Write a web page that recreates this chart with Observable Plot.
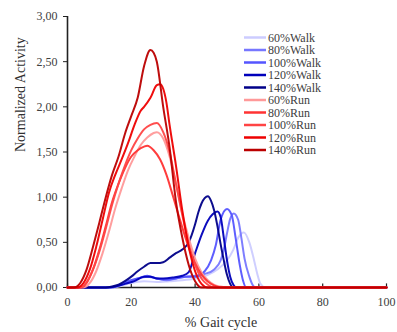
<!DOCTYPE html>
<html><head><meta charset="utf-8">
<script src="https://cdn.jsdelivr.net/npm/d3@7"></script>
<script src="https://cdn.jsdelivr.net/npm/@observablehq/plot@0.6"></script>
<style>body{margin:0;background:#fff} svg text{font-family:'Liberation Serif','Times New Roman',serif !important}</style>
</head><body><div id="chart"></div>
<script>
const seriesNames = ["60%Walk","80%Walk","100%Walk","120%Walk","140%Walk","60%Run","80%Run","100%Run","120%Run","140%Run"];
const seriesColors = ["#CCCCFF","#7777FF","#5555FF","#0000BB","#000088","#FF9999","#FF3333","#FF4444","#EE0000","#BB0000"];
const xTicks = [0,20,40,60,80,100];
const yTicks = [0,0.5,1,1.5,2,2.5,3];

const walk60X = [0,14,17,20,24,28,32,36,40,44,47,50,52,53.5,55.3,57,58.5,59.5,60.5,62,100];
const walk60Y = [0,0,0.02,0.05,0.07,0.06,0.07,0.08,0.1,0.14,0.2,0.3,0.42,0.55,0.61,0.5,0.3,0.15,0.04,0,0];
const walk80X = [0,13,16,19,22,25,28,31,34,37,40,43,46,48,49,50,51,52.1,53.5,54.5,55.5,57,58,59,100];
const walk80Y = [0,0,0.02,0.06,0.1,0.12,0.1,0.08,0.1,0.12,0.13,0.15,0.2,0.3,0.42,0.6,0.76,0.82,0.75,0.55,0.32,0.12,0.03,0,0];
const walk100X = [0,13,16,19,22,25,28,31,34,37,40,43,45,46.5,48,50,51.5,52.7,54,55,56,100];
const walk100Y = [0,0,0.02,0.07,0.1,0.13,0.1,0.09,0.1,0.12,0.12,0.18,0.3,0.47,0.75,0.87,0.8,0.55,0.25,0.08,0,0];
const walk120X = [0,12,15,18,21,24,26,28,30,33,36,38,40,42,44,45.5,47,48,49,50,51,52,53,100];
const walk120Y = [0,0,0.01,0.04,0.07,0.12,0.12,0.1,0.1,0.11,0.13,0.17,0.38,0.58,0.74,0.81,0.84,0.78,0.55,0.3,0.12,0.03,0,0];
const walk140X = [0,12,14,16,18,20,22,24,26,28,30,32,34,36,38,40,41,42,44,45,46,47,48,49,50,51,52,100];
const walk140Y = [0,0,0.01,0.03,0.07,0.12,0.18,0.23,0.27,0.27,0.28,0.33,0.38,0.42,0.5,0.7,0.83,0.93,1.01,0.96,0.85,0.68,0.48,0.3,0.14,0.04,0,0];

const run60X = [0,5,7,9,11,13,15,17,19,21,23,25,27,28,30,32,34,36,38,40,42,44,46,48,50,100];
const run60Y = [0,0,0.05,0.18,0.38,0.62,0.88,1.1,1.3,1.45,1.58,1.66,1.71,1.72,1.65,1.45,1.15,0.82,0.55,0.32,0.17,0.08,0.03,0.01,0,0];
const run80X = [0,4,6,8,10,12,14,16,18,20,22,24,25,27,29,31,33,35,37,39,41,43,45,47,49,100];
const run80Y = [0,0,0.05,0.2,0.42,0.68,0.95,1.15,1.32,1.45,1.52,1.56,1.57,1.52,1.42,1.25,1.02,0.78,0.55,0.35,0.2,0.1,0.04,0.01,0,0];
const run100X = [0,4,6,8,10,12,14,16,18,20,22,24,26,28,30,32,34,36,38,40,42,44,46,100];
const run100Y = [0,0,0.06,0.2,0.4,0.65,0.92,1.15,1.35,1.52,1.65,1.75,1.8,1.82,1.72,1.5,1.15,0.8,0.48,0.25,0.1,0.03,0,0];
const run120X = [0,3,5,7,9,11,13,15,17,19,21,23,24,26,28,29,30,31,32,34,36,38,40,42,44,100];
const run120Y = [0,0,0.05,0.2,0.45,0.75,1.05,1.25,1.42,1.6,1.8,1.96,2.0,2.1,2.24,2.25,2.2,2.05,1.8,1.35,0.85,0.45,0.18,0.04,0,0];
const run140X = [0,2,4,6,8,10,12,14,16,18,20,22,24,26,27,28,30,32,34,36,38,40,42,100];
const run140Y = [0,0,0.05,0.2,0.45,0.72,1.0,1.25,1.45,1.7,1.9,2.1,2.45,2.63,2.6,2.5,2.0,1.55,0.95,0.55,0.25,0.07,0,0];

const xs = [walk60X,walk80X,walk100X,walk120X,walk140X,run60X,run80X,run100X,run120X,run140X];
const ys = [walk60Y,walk80Y,walk100Y,walk120Y,walk140Y,run60Y,run80Y,run100Y,run120Y,run140Y];
const rows = [];
seriesNames.forEach((s,i)=>xs[i].forEach((x,j)=>rows.push({series:s,x,y:ys[i][j]})));

const fmt = v => d3.format(".2f")(v).replace(".", ",");
const font = "'Liberation Serif','Times New Roman',serif";

const plot = Plot.plot({
  width: 397, height: 332,
  marginLeft: 67, marginRight: 11, marginTop: 16, marginBottom: 45,
  style: {fontFamily: font, fontSize: "12px", color: "#404040", background: "#fff"},
  x: {domain: [0,100], ticks: xTicks},
  y: {domain: [0,3], ticks: yTicks, tickFormat: fmt},
  color: {domain: seriesNames, range: seriesColors},
  marks: [
    Plot.axisY({ticks: yTicks, tickFormat: fmt, tickSize: 4, tickPadding: 6, label: null, stroke: "#222", fontSize: 12}),
    Plot.axisX({ticks: xTicks, tickSize: 0, tickPadding: 10, label: null, fontSize: 12}),
    Plot.ruleX(xTicks, {x: d=>d, y1: 0, y2: 0.04, stroke: "#222", strokeWidth: 1.2}),
    Plot.ruleX([0], {stroke: "#222", strokeWidth: 1.6}),
    Plot.ruleY([0], {stroke: "#222", strokeWidth: 1.6}),
    Plot.line(rows, {x: "x", y: "y", z: "series", stroke: "series", strokeWidth: 2, curve: "monotone-x", strokeOpacity: 0.95}),
    Plot.text(["Normalized Activity"], {frameAnchor: "left", rotate: -90, dx: -47, dy: 0, fontSize: 14, fill: "#303030"}),
    Plot.text(["% Gait cycle"], {frameAnchor: "bottom", dy: 39, dx: -6, fontSize: 14, fill: "#303030"})
  ]
});
document.getElementById("chart").appendChild(plot);

const svg = d3.select(plot);
const lg = svg.append("g").attr("transform", "translate(244,37.5)");
seriesNames.forEach((s,i)=>{
  const g = lg.append("g").attr("transform", `translate(0,${i*12.5})`);
  g.append("line").attr("x1",0).attr("x2",22).attr("y1",0).attr("y2",0)
    .attr("stroke", seriesColors[i]).attr("stroke-width", 2.5);
  g.append("text").attr("x",24).attr("y",0).attr("dy","0.35em").attr("text-anchor","start")
    .attr("font-size", 12).attr("fill","#404040").text(s);
});
</script></body></html>
